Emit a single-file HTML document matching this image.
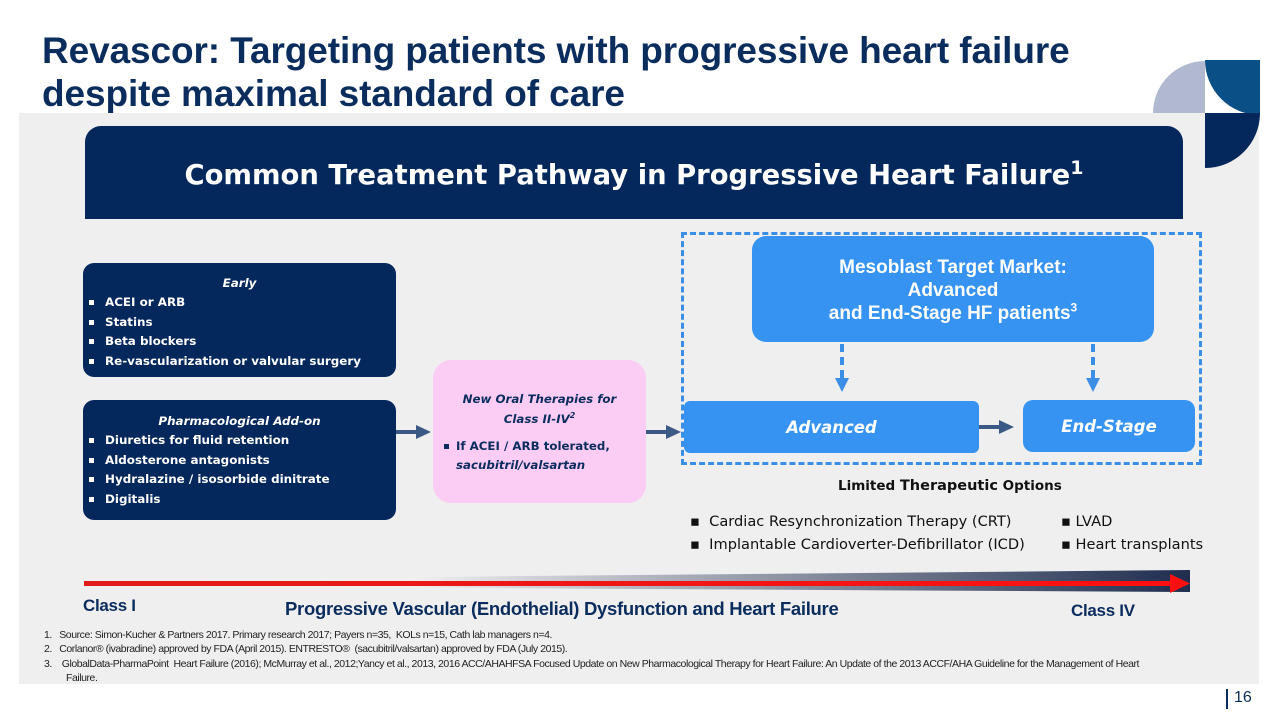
<!DOCTYPE html>
<html><head><meta charset="utf-8"><style>
*{margin:0;padding:0;box-sizing:border-box}
body{width:1280px;height:720px;background:#fff;position:relative;overflow:hidden;font-family:"Liberation Sans",sans-serif}
.a{position:absolute}
h1{position:absolute;left:42px;top:29px;font-size:37px;line-height:43px;color:#0b2d5e;font-weight:bold;white-space:nowrap;letter-spacing:-0.1px}
.panel{left:19px;top:113px;width:1240px;height:571px;background:#f0eff0}
.hdr{left:85px;top:126px;width:1098px;height:93px;background:#04275c;border-radius:16px 16px 0 0;color:#fff;font-family:"DejaVu Sans",sans-serif;font-weight:bold;font-size:27.4px;text-align:center;line-height:100px}
.nav{background:#04275c;color:#fff;border-radius:11px;font-family:"DejaVu Sans",sans-serif;font-weight:bold;font-size:11.9px}
.nav ul,.pink ul{list-style:none}
.nav li{padding-left:22px;position:relative;line-height:19.5px}
.nav li:before{content:"";position:absolute;left:6px;top:7px;width:5px;height:5px;background:#fff}
.ti{font-style:italic;text-align:center;line-height:20px}
.pink{background:#fbcdf5;border-radius:18px;color:#0b2d5e;font-family:"DejaVu Sans",sans-serif;font-weight:bold;font-size:11.8px}
.blue{background:#3693f2;color:#fff;border-radius:10px;text-align:center;font-weight:bold}
sup{line-height:0}
</style></head><body>
<h1>Revascor: Targeting patients with progressive heart failure<br>despite maximal standard of care</h1>
<div class="a panel"></div>
<svg class="a" style="left:1150px;top:58px" width="112" height="112">
<path d="M3 55 A52 52 0 0 1 55 3 L55 55Z" fill="#b0b9d0"/>
<path d="M55 2 L110 2 L110 57 A55 55 0 0 1 55 2Z" fill="#0a4f86"/>
<path d="M55 55 L110 55 A55 55 0 0 1 55 110Z" fill="#04275c"/>
</svg>
<div class="a hdr">Common Treatment Pathway in Progressive Heart Failure<sup style="font-size:19px">1</sup></div>

<div class="a nav" style="left:83px;top:263px;width:313px;height:114px;padding:10px 0 0 0">
<div class="ti">Early</div>
<ul><li>ACEI or ARB</li><li>Statins</li><li>Beta blockers</li><li>Re-vascularization or valvular surgery</li></ul></div>
<div class="a nav" style="left:83px;top:400px;width:313px;height:120px;padding:11px 0 0 0">
<div class="ti">Pharmacological Add-on</div>
<ul><li>Diuretics for fluid retention</li><li>Aldosterone antagonists</li><li>Hydralazine / isosorbide dinitrate</li><li>Digitalis</li></ul></div>

<div class="a pink" style="left:433px;top:360px;width:213px;height:143px;padding:29px 8px 0 8px">
<div class="ti" style="line-height:20px">New Oral Therapies for<br>Class II-IV<sup style="font-size:8px">2</sup></div>
<div style="position:relative;padding-left:15px;margin-top:8px;line-height:19px">
<span style="position:absolute;left:3px;top:7px;width:5px;height:5px;background:#0b2d5e"></span>If ACEI / ARB tolerated,<br><i>sacubitril/valsartan</i></div></div>

<div class="a" style="left:681px;top:232px;width:521px;height:233px;border:3px dashed #3a8ee6"></div>
<div class="a blue" style="left:752px;top:236px;width:402px;height:106px;border-radius:14px;font-size:19px;line-height:23px;padding-top:20px">Mesoblast Target Market:<br>Advanced<br>and End-Stage HF patients<sup style="font-size:12px">3</sup></div>
<div class="a blue" style="left:684px;top:401px;width:295px;height:52px;font-family:'DejaVu Sans',sans-serif;font-style:italic;font-size:16.5px;line-height:54px;border-radius:6px">Advanced</div>
<div class="a blue" style="left:1023px;top:400px;width:172px;height:52px;font-family:'DejaVu Sans',sans-serif;font-style:italic;font-size:16.5px;line-height:54px">End-Stage</div>

<svg class="a" style="left:0;top:0" width="1280" height="720">
<g stroke="#3a5a85" stroke-width="4" fill="#3a5a85">
<line x1="396" y1="432" x2="418" y2="432"/><path d="M416 425 L431 432 L416 439Z" stroke="none"/>
<line x1="646" y1="432" x2="668" y2="432"/><path d="M666 425 L681 432 L666 439Z" stroke="none"/>
<line x1="979" y1="427" x2="1001" y2="427"/><path d="M999 420 L1014 427 L999 434Z" stroke="none"/>
</g>
<g stroke="#3a8ee6" stroke-width="4" stroke-dasharray="8,5" fill="#3a8ee6">
<line x1="842" y1="344" x2="842" y2="378"/><line x1="1093" y1="344" x2="1093" y2="378"/>
</g>
<path d="M835 378 L849 378 L842 392Z" fill="#3a8ee6"/><path d="M1086 378 L1100 378 L1093 392Z" fill="#3a8ee6"/>
<defs><linearGradient id="g" x1="0" x2="1"><stop offset="0.3" stop-color="#f0eff0"/><stop offset="1" stop-color="#1f2d4e"/></linearGradient>
<linearGradient id="r" x1="0" x2="1"><stop offset="0" stop-color="#e01b1b"/><stop offset="1" stop-color="#ff1010"/></linearGradient></defs>
<path d="M84 580 L1190 570 L1190 592 L84 586Z" fill="url(#g)"/>
<rect x="84" y="581" width="1090" height="5" fill="url(#r)"/>
<path d="M1170 574 L1190 583.5 L1170 593Z" fill="#ff1010"/>
</svg>

<div class="a" style="left:838px;top:478px;font-family:'DejaVu Sans',sans-serif;font-weight:bold;font-size:13.5px;color:#111">Limited <span style="font-size:14.5px">Therapeutic</span> Options</div>
<div class="a" style="left:690px;top:510px;font-family:'DejaVu Sans',sans-serif;font-size:14.6px;line-height:23px;color:#111">
<div>▪&nbsp; Cardiac Resynchronization Therapy (CRT)</div><div>▪&nbsp; Implantable Cardioverter-Defibrillator (ICD)</div></div>
<div class="a" style="left:1061px;top:510px;font-family:'DejaVu Sans',sans-serif;font-size:14.6px;line-height:23px;color:#111">
<div>▪ LVAD</div><div>▪ Heart transplants</div></div>

<div class="a" style="left:83px;top:596px;font-weight:bold;font-size:17px;color:#0b2d5e;letter-spacing:-0.3px">Class I</div>
<div class="a" style="left:285px;top:598px;font-weight:bold;font-size:18.5px;color:#0b2d5e;letter-spacing:-0.3px">Progressive Vascular (Endothelial) Dysfunction and Heart Failure</div>
<div class="a" style="left:1071px;top:601px;font-weight:bold;font-size:17px;color:#0b2d5e;letter-spacing:-0.3px">Class IV</div>

<div class="a" style="left:44px;top:628px;width:1110px;font-size:10.5px;line-height:14.3px;color:#222;letter-spacing:-0.45px">
<div>1.&nbsp;&nbsp;&nbsp;Source: Simon-Kucher &amp; Partners 2017. Primary research 2017; Payers n=35,&nbsp; KOLs n=15, Cath lab managers n=4.</div>
<div>2.&nbsp;&nbsp;&nbsp;Corlanor® (ivabradine) approved by FDA (April 2015). ENTRESTO®&nbsp; (sacubitril/valsartan) approved by FDA (July 2015).</div>
<div style="padding-left:22px;text-indent:-22px">3.&nbsp;&nbsp;&nbsp;&nbsp;GlobalData-PharmaPoint&nbsp; Heart Failure (2016); McMurray et al., 2012;Yancy et al., 2013, 2016 ACC/AHAHFSA Focused Update on New Pharmacological Therapy for Heart Failure: An Update of the 2013 ACCF/AHA Guideline for the Management of Heart Failure.</div></div>

<div class="a" style="left:1226px;top:689px;width:2px;height:20px;background:#0b2d5e"></div>
<div class="a" style="left:1234px;top:689px;font-size:16px;color:#0b2d5e">16</div>
</body></html>
